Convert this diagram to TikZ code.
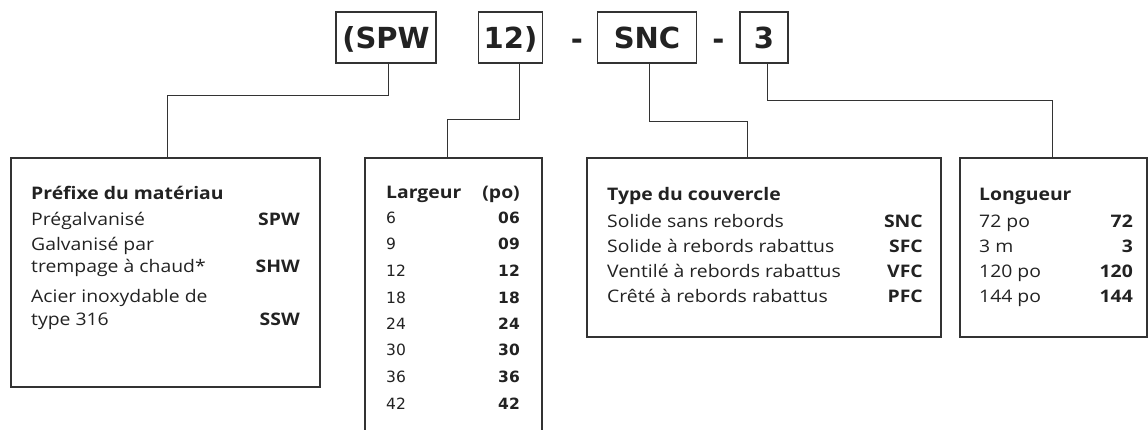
\documentclass[tikz,border=0pt]{standalone}
\usepackage{fontspec}
\setmainfont{Open Sans}[FakeStretch=1.12]
\newfontfamily\verd{DejaVu Sans}
\newfontfamily\verdbold{DejaVu Sans Bold}
\definecolor{linec}{HTML}{333333}
\definecolor{txt}{HTML}{222222}
\tikzset{
  codebox/.style={draw=linec, line width=1.3pt, inner sep=0pt, text height=21pt, text depth=0pt,
    font=\verdbold\fontsize{29}{29}\selectfont, text=txt},
  sep/.style={anchor=base, inner sep=0pt, font=\verdbold\fontsize{29}{29}\selectfont, text=txt},
  panel/.style={draw=linec, line width=1.5pt, inner sep=0pt, anchor=north west},
  conn/.style={draw=linec, line width=1pt},
  lbl/.style={anchor=base west, inner sep=0pt, font=\fontsize{17.3}{20}\selectfont, text=txt},
  ttl/.style={anchor=base west, inner sep=0pt, font=\bfseries\fontsize{17.3}{20}\selectfont, text=txt},
  code/.style={anchor=base east, inner sep=0pt, font=\bfseries\fontsize{17.3}{20}\selectfont, text=txt},
  num/.style={anchor=base west, inner sep=0pt, font=\verd\fontsize{15.5}{18}\selectfont, text=txt},
  bnum/.style={anchor=base east, inner sep=0pt, font=\verdbold\fontsize{15.5}{18}\selectfont, text=txt},
}
\begin{document}
\begin{tikzpicture}[x=1pt,y=-1pt]
\useasboundingbox (0,0) rectangle (1148,429);
% top code boxes
\node[codebox, minimum width=100pt, minimum height=51pt] (spw) at (386,37.5) {(SPW};
\node[codebox, minimum width=64pt, minimum height=51pt] (w12) at (510.5,37.5) {12)};
\node[sep] (d1) at (577,49) {-};
\node[codebox, minimum width=99pt, minimum height=51pt] (snc) at (647,37.5) {SNC};
\node[sep] (d2) at (718.5,49) {-};
\node[codebox, minimum width=48pt, minimum height=51pt] (t3) at (764,37.5) {3};

% panels
\node[panel, minimum width=309pt, minimum height=229pt] (b1) at (10,157) {};
\node[panel, minimum width=177pt, minimum height=276pt] (b2) at (364,157) {};
\node[panel, minimum width=354pt, minimum height=179pt] (b3) at (586,157) {};
\node[panel, minimum width=187pt, minimum height=179pt] (b4) at (959,157) {};

% connectors
\coordinate (c1) at (167,95);
\coordinate (c2) at (447,119);
\coordinate (c3) at (747,121);
\coordinate (c4) at (1052,100);
\draw[conn] ([xshift=2pt]spw.south) |- (c1) -- (c1 |- b1.north);
\draw[conn] ([xshift=8.5pt]w12.south) |- (c2) -- (c2 |- b2.north);
\draw[conn] ([xshift=2pt]snc.south) |- (c3) -- (c3 |- b3.north);
\draw[conn] ([xshift=3pt]t3.south) |- (c4) -- (c4 |- b4.north);

% panel 1
\node[ttl] (p1t) at (31,199) {Préfixe du matériau};
\node[lbl] (p1a) at (31,225) {Prégalvanisé};
\node[code] (p1ac) at (300,225) {SPW};
\node[lbl] (p1b) at (31,250) {Galvanisé par};
\node[lbl] (p1b2) at (31,272) {trempage à chaud*};
\node[code] (p1bc) at (300,272) {SHW};
\node[lbl] (p1c) at (31,302) {Acier inoxydable de};
\node[lbl] (p1c2) at (31,325) {type 316};
\node[code] (p1cc) at (300,325) {SSW};

% panel 2
\node[ttl] (p2t) at (386,198) {Largeur};
\node[ttl, anchor=base east] (p2u) at (520,198) {(po)};
\foreach \a/\b/\y [count=\i] in {6/06/223, 9/09/249, 12/12/276, 18/18/303, 24/24/329, 30/30/355, 36/36/382, 42/42/409}{
  \node[num] (p2n\i) at (386,\y) {\a};
  \node[bnum] (p2c\i) at (520,\y) {\b};
}

% panel 3
\node[ttl] (p3t) at (607,200) {Type du couvercle};
\node[lbl] (p3a) at (607,227) {Solide sans rebords};
\node[code] (p3ac) at (923,227) {SNC};
\node[lbl] (p3b) at (607,252) {Solide à rebords rabattus};
\node[code] (p3bc) at (923,252) {SFC};
\node[lbl] (p3c) at (607,277) {Ventilé à rebords rabattus};
\node[code] (p3cc) at (923,277) {VFC};
\node[lbl] (p3d) at (607,302) {Crêté à rebords rabattus};
\node[code] (p3dc) at (923,302) {PFC};

% panel 4
\node[ttl] (p4t) at (979,200) {Longueur};
\node[lbl] (p4a) at (979,227) {72 po};
\node[code] (p4ac) at (1133,227) {72};
\node[lbl] (p4b) at (979,252) {3 m};
\node[code] (p4bc) at (1133,252) {3};
\node[lbl] (p4c) at (979,277) {120 po};
\node[code] (p4cc) at (1133,277) {120};
\node[lbl] (p4d) at (979,302) {144 po};
\node[code] (p4dc) at (1133,302) {144};
\end{tikzpicture}
\end{document}
